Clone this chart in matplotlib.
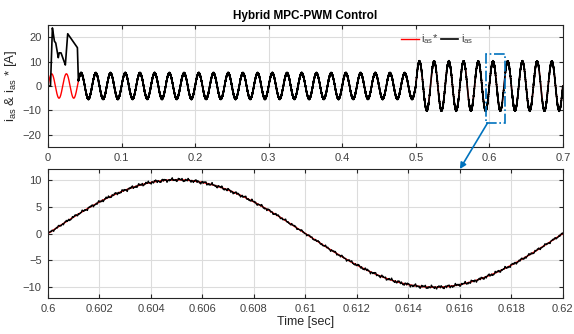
import matplotlib
matplotlib.use('Agg')
import numpy as np
from matplotlib import pyplot as plt
from matplotlib.patches import Rectangle, ConnectionPatch

plt.rcParams['font.family'] = ['Liberation Sans', 'DejaVu Sans']
plt.rcParams['font.size'] = 8
plt.rcParams['mathtext.fontset'] = 'custom'
plt.rcParams['mathtext.rm'] = 'Liberation Sans'
plt.rcParams['mathtext.it'] = 'Liberation Sans'

# signal parameters
f_grid = 50.0                      # Hz
t_end = 0.7
t_step = 0.5                       # amplitude step time
ref_amps = [5.0, 10.0]             # i_as* amplitude before / after step
meas_amps = [5.2, 10.0]            # i_as amplitude before / after step
# start-up transient of i_as (t [s], value [A])
trans_t = [0.0, 0.0030, 0.0034, 0.0060, 0.0086, 0.0105, 0.0140, 0.0151, 0.0177, 0.0236, 0.0268, 0.0400, 0.0413]
trans_v = [0.0, 0.0, 0.0, 23.8, 18.4, 17.7, 11.6, 13.6, 13.6, 8.6, 21.4, 15.7, 3.4]
# switching ripple on i_as
ripple_f = [3170.0, 7730.0, 12910.0, 21370.0]
ripple_a = [0.10, 0.08, 0.07, 0.05]

# zoom window
zoom_t = [0.6, 0.62]
box_t = [0.5955, 0.622]
box_y = [-15.2, 13.2]

dt = 1e-5
t = np.arange(0, t_end + dt, dt)
a_ref = np.where(t < t_step, ref_amps[0], ref_amps[1])
a_meas = np.where(t < t_step, meas_amps[0], meas_amps[1])
i_ref = a_ref * np.sin(2 * np.pi * f_grid * t)
i_meas = a_meas * np.sin(2 * np.pi * f_grid * t)
for fr, am in zip(ripple_f, ripple_a):
    i_meas = i_meas + am * np.sin(2 * np.pi * fr * t) * (1 + 0.5 * np.abs(np.sin(2 * np.pi * f_grid * t)))
tr = t <= trans_t[-1]
i_meas[tr] = np.interp(t[tr], trans_t, trans_v)

fig = plt.figure(figsize=(5.74, 3.34), dpi=100)
ax1 = fig.add_axes([0.0836, 0.5599, 0.897, 0.3653])
ax2 = fig.add_axes([0.0836, 0.1078, 0.897, 0.386])

blue = '#0072BD'
for ax in (ax1, ax2):
    ax.grid(True, color='#dcdcdc', linewidth=0.8)
    ax.set_axisbelow(True)
    ax.tick_params(direction='in', top=True, right=True, length=3, color='#262626',
                   labelcolor='#404040', labelsize=8, pad=4.5)
    for s in ax.spines.values():
        s.set_color('#262626')
        s.set_linewidth(0.8)

ax1.plot(t, i_ref, color='red', lw=1.0, label=r'i$_{\mathrm{as}}$*')
ax1.plot(t, i_meas, color='black', lw=1.2, label=r'i$_{\mathrm{as}}$')
ax1.set_xlim(0, t_end)
ax1.set_ylim(-25, 25)
ax1.set_yticks([-20, -10, 0, 10, 20])
ax1.set_xticks(np.arange(0, 0.71, 0.1))
ax1.set_xticklabels(['0', '0.1', '0.2', '0.3', '0.4', '0.5', '0.6', '0.7'])
ax1.set_ylabel(r'i$_{\mathrm{as}}$ & i$_{\mathrm{as}}$ * [A]', fontsize=9.5, labelpad=3, color='#262626')
ax1.set_title('Hybrid MPC-PWM Control', fontsize=8.5, fontweight='bold', pad=4)
leg = ax1.legend(loc='upper right', bbox_to_anchor=(0.845, 1.02), ncol=2, frameon=False,
                 handlelength=1.6, handletextpad=0.2, columnspacing=0.2, fontsize=8)
for txt in leg.get_texts():
    txt.set_color('#404040')

ax1.add_patch(Rectangle((box_t[0], box_y[0]), box_t[1] - box_t[0], box_y[1] - box_y[0],
                        fill=False, edgecolor=blue, lw=1.2, ls='-.', zorder=5))

m = (t >= zoom_t[0] - dt) & (t <= zoom_t[1] + dt)
ax2.plot(t[m], i_ref[m], color='red', lw=1.0)
ax2.plot(t[m], i_meas[m], color='black', lw=0.9)
ax2.set_xlim(zoom_t)
ax2.set_ylim(-12, 12)
ax2.set_yticks([-10, -5, 0, 5, 10])
xt = np.arange(0.6, 0.6201, 0.002)
ax2.set_xticks(xt)
ax2.set_xticklabels(['0.6', '0.602', '0.604', '0.606', '0.608', '0.61', '0.612', '0.614', '0.616', '0.618', '0.62'])
ax2.set_xlabel('Time [sec]', fontsize=9, labelpad=1, color='#262626')

con = ConnectionPatch(xyA=(0.5975, box_y[0]), coordsA=ax1.transData,
                      xyB=(0.616, 12), coordsB=ax2.transData,
                      arrowstyle='-|>', color=blue, lw=1.2, mutation_scale=9)
fig.add_artist(con)

fig.savefig('out.png', dpi=100)
